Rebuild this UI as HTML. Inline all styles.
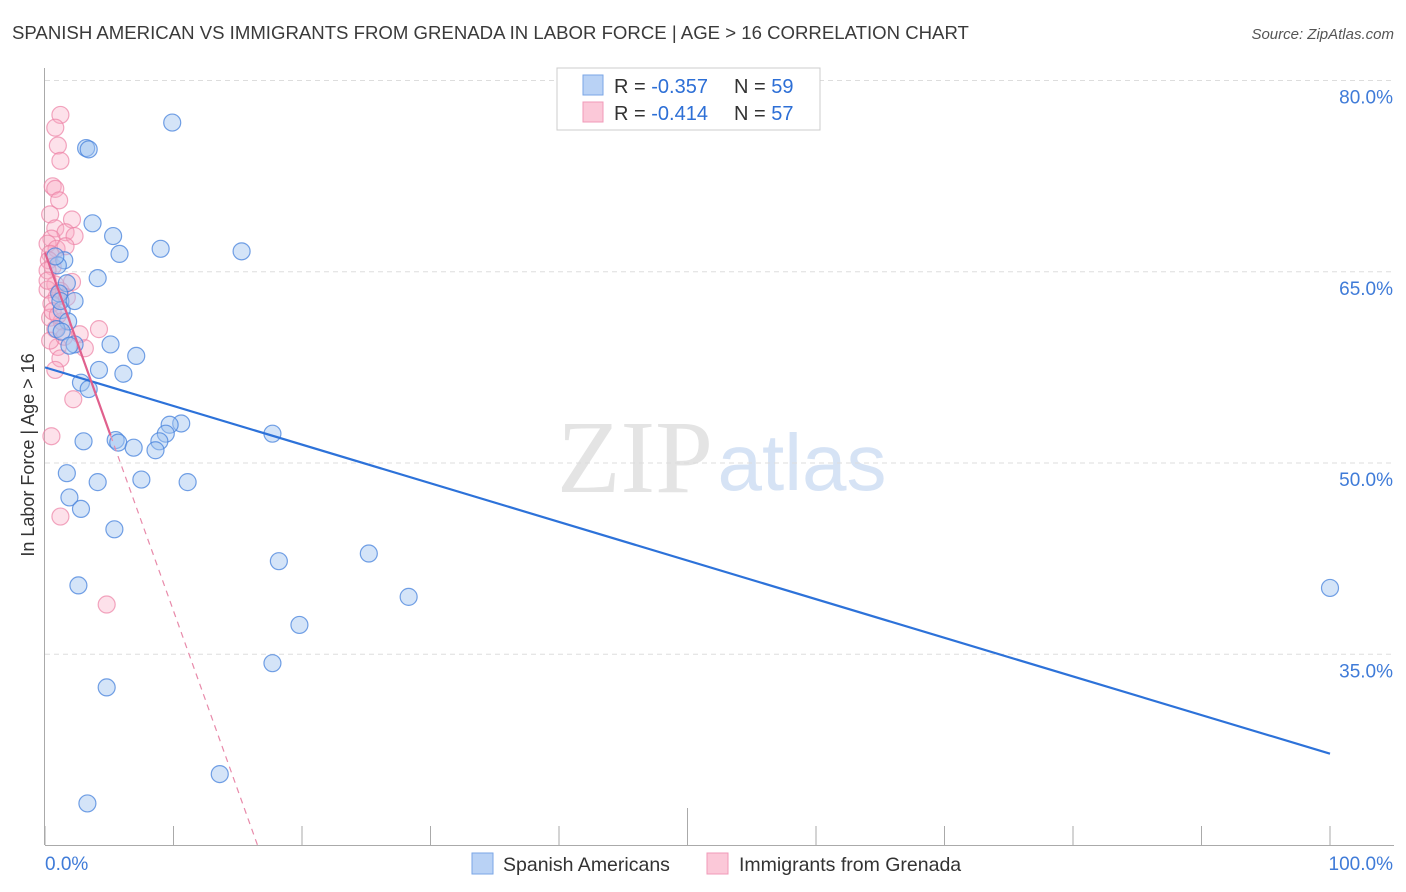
<!DOCTYPE html>
<html><head><meta charset="utf-8"><style>
body{margin:0;background:#fff;font-family:"Liberation Sans",sans-serif}
svg{display:block}
</style></head><body>
<svg id="chart" width="1406" height="892" xmlns="http://www.w3.org/2000/svg">
<text x="12" y="39" font-size="18.6" fill="#3a3a3a">SPANISH AMERICAN VS IMMIGRANTS FROM GRENADA IN LABOR FORCE | AGE &gt; 16 CORRELATION CHART</text>
<text x="1394" y="39" font-size="15" fill="#555" font-style="italic" text-anchor="end">Source: ZipAtlas.com</text>
<text x="34" y="455" font-size="18" fill="#333" transform="rotate(-90 34 455)" text-anchor="middle">In Labor Force | Age &gt; 16</text>
<text x="635" y="492" font-size="104" fill="#e4e4e4" font-family="Liberation Serif,serif" text-anchor="middle">ZIP</text>
<text x="802" y="490" font-size="80" fill="#d6e3f5" text-anchor="middle">atlas</text>
<g id="grid"></g><g id="marks"></g>
<g>
<rect x="557" y="68" width="263" height="62" fill="#fff" stroke="#ccc"/>
<rect x="583" y="75" width="20" height="20" fill="#b9d2f5" stroke="#7aa6e6"/>
<rect x="583" y="102" width="20" height="20" fill="#fbc8d8" stroke="#f09ab8"/>
<text x="614" y="93" font-size="20" fill="#333">R = <tspan fill="#2d6fd6">-0.357</tspan></text>
<text x="734" y="93" font-size="20" fill="#333">N = <tspan fill="#2d6fd6">59</tspan></text>
<text x="614" y="120" font-size="20" fill="#333">R = <tspan fill="#2d6fd6">-0.414</tspan></text>
<text x="734" y="120" font-size="20" fill="#333">N = <tspan fill="#2d6fd6">57</tspan></text>
</g>
<g>
<rect x="472" y="853" width="21" height="21" fill="#b9d2f5" stroke="#7aa6e6"/>
<text x="503" y="871" font-size="19.5" fill="#333">Spanish Americans</text>
<rect x="707" y="853" width="21" height="21" fill="#fbc8d8" stroke="#f09ab8"/>
<text x="739" y="871" font-size="19.5" fill="#333">Immigrants from Grenada</text>
</g>
</svg>
<script>
const yTicks=[80,65,50,35];
const xTickVals=[0,10,20,30,40,50,60,70,80,90,100];
const blueX=[9.9,3.2,3.4,3.7,5.3,9.0,15.3,5.8,1.5,1.0,4.1,1.7,1.1,1.3,1.8,0.9,2.3,5.1,7.1,4.2,6.1,2.8,3.4,10.6,9.7,9.4,17.7,5.5,5.7,3.0,6.9,8.9,8.6,1.7,7.5,4.1,11.1,1.9,2.8,5.4,25.2,18.2,2.6,28.3,19.8,17.7,4.8,13.6,3.3,100,0.8,1.2,1.3,1.9,2.3];
const blueY=[76.7,74.7,74.6,68.8,67.8,66.8,66.6,66.4,65.9,65.5,64.5,64.1,63.3,62.0,61.1,60.5,59.3,59.3,58.4,57.3,57.0,56.3,55.8,53.1,53.0,52.3,52.3,51.8,51.6,51.7,51.2,51.7,51.0,49.2,48.7,48.5,48.5,47.3,46.4,44.8,42.9,42.3,40.4,39.5,37.3,34.3,32.4,25.6,23.3,40.2,66.2,62.7,60.3,59.2,62.7];
const pinkX=[1.2,0.8,1.0,1.2,0.6,0.8,1.1,2.1,0.4,0.8,1.6,2.3,0.5,0.2,0.9,0.4,1.6,0.3,0.6,0.2,2.1,0.8,1.2,0.2,0.9,0.5,0.4,1.3,4.2,0.8,2.7,3.1,1.0,0.4,1.5,1.2,0.8,2.2,0.5,1.2,4.8,0.2,0.6,1.7,1.0];
const pinkY=[77.3,76.3,74.9,73.7,71.7,71.5,70.6,69.1,69.5,68.4,68.1,67.8,67.6,67.2,66.8,66.4,67.0,65.9,65.4,65.1,64.2,64.0,63.5,63.6,63.0,62.5,61.4,61.1,60.5,60.5,60.1,59.0,59.1,59.6,59.9,58.2,57.3,55.0,52.1,45.8,38.9,64.3,61.9,63.0,61.6];
const blueLine=[57.5,27.2];
const pinkLine=[66.5,-2.81,5.1];
const X=v=>45+v*12.85, Y=v=>463-(v-50)*12.75;
const NS='http://www.w3.org/2000/svg';
function mk(p,t,a){const e=document.createElementNS(NS,t);for(const k in a)e.setAttribute(k,a[k]);p.appendChild(e);return e;}
const grid=document.getElementById('grid'),marks=document.getElementById('marks');
yTicks.forEach(v=>{
 const l=mk(grid,'line',{x1:45,x2:1394,y1:Y(v),y2:Y(v),stroke:'#ddd','stroke-dasharray':'5,4'});
 
 
 const t=mk(grid,'text',{x:1393,y:Y(v)+23,'font-size':19,fill:'#3f7bd8','text-anchor':'end'});t.textContent=v.toFixed(1)+'%';
 
 
});
mk(grid,'line',{x1:44.5,x2:44.5,y1:68,y2:845,stroke:'#aaa'});
mk(grid,'line',{x1:45,x2:1394,y1:845.5,y2:845.5,stroke:'#aaa'});
xTickVals.forEach(v=>{
 const tk=mk(grid,'line',{x1:X(v),x2:X(v),y1:v===50?808:826,y2:845,stroke:'#aaa'});
 
 
});
const xl=mk(grid,'text',{x:45,y:870,'font-size':19,fill:'#3f7bd8'});xl.textContent='0.0%';


const xr=mk(grid,'text',{x:1393,y:870,'font-size':19,fill:'#3f7bd8','text-anchor':'end'});xr.textContent='100.0%';


pinkX.forEach((x,i)=>{
 const c=mk(marks,'circle',{cx:X(x),cy:Y(pinkY[i]),r:8.5,fill:'rgba(248,170,196,0.35)',stroke:'rgba(236,130,165,0.7)','stroke-width':1.2});
 
 
});
blueX.forEach((x,i)=>{
 const c=mk(marks,'circle',{cx:X(x),cy:Y(blueY[i]),r:8.5,fill:'rgba(160,195,240,0.45)',stroke:'rgba(70,130,220,0.75)','stroke-width':1.2});
 
 
});
const bl=mk(marks,'line',{x1:X(0),y1:Y(blueLine[0]),x2:X(100),y2:Y(blueLine[1]),stroke:'#2d72d9','stroke-width':2.2});


const pe=pinkLine[2], pv=x=>pinkLine[0]+pinkLine[1]*x;
const xEnd=(20-pinkLine[0])/pinkLine[1];
const pl=mk(marks,'line',{x1:X(0),y1:Y(pv(0)),x2:X(pe),y2:Y(pv(pe)),stroke:'#e0608d','stroke-width':2.2});


const pd=mk(marks,'line',{x1:X(pe),y1:Y(pv(pe)),x2:X(xEnd),y2:Y(20),stroke:'#e88aaa','stroke-width':1.2,'stroke-dasharray':'6,5'});


</script>
</body></html>
